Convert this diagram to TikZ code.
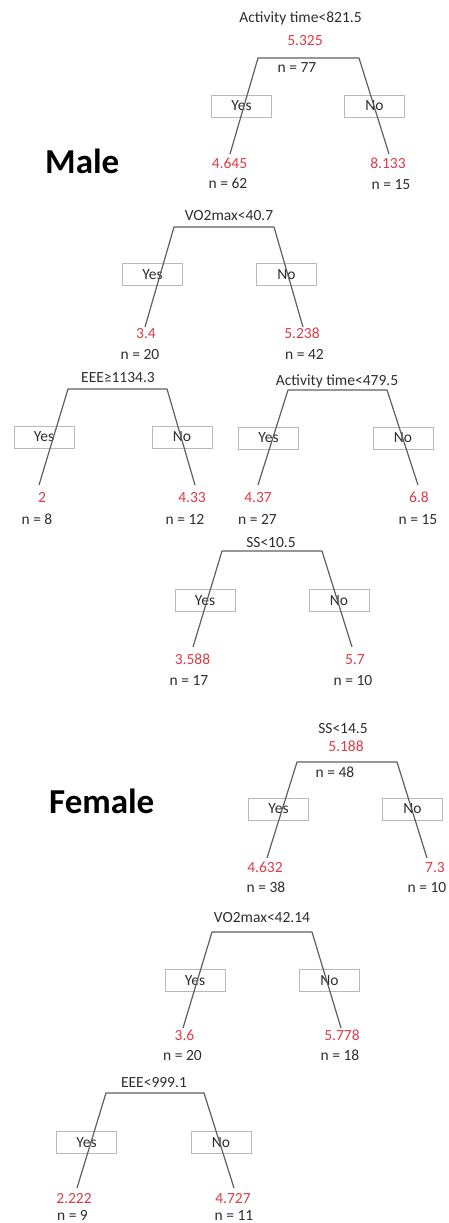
\documentclass[tikz,border=0pt]{standalone}
\usepackage{fontspec}
\setmainfont{Carlito}
\definecolor{ink}{RGB}{45,45,45}
\definecolor{mean}{RGB}{222,58,72}
\definecolor{edge}{RGB}{95,95,95}
\definecolor{frame}{RGB}{185,185,185}
\tikzset{
  lbl/.style={font=\fontsize{15.5}{18}\selectfont, text=ink, inner sep=0pt, anchor=base},
  val/.style={lbl, text=mean},
  choice/.style={draw=frame, line width=0.9pt, minimum width=60pt, minimum height=22pt,
    inner sep=0pt, font=\fontsize{15.5}{18}\selectfont, text=ink},
  branch/.style={draw=edge, line width=1.2pt, line join=round},
  sex/.style={font=\fontsize{35}{40}\selectfont\bfseries, text=black, inner sep=0pt, anchor=base west},
}
\begin{document}
\begin{tikzpicture}[x=1pt,y=-1pt]
\useasboundingbox (0,0) rectangle (448,1223);

% ---------------- Male ----------------
\node[sex] (male) at (45,173) {Male};

% split 1: Activity time<821.5
\node[lbl] (m1c) at (300.5,23) {Activity time<821.5};
\node[val] (m1v) at (305,46) {5.325};
\node[lbl] (m1n) at (297,72) {n = 77};
\node[choice] (m1y) at (241.5,106) {Yes};
\node[choice] (m1o) at (374.5,106) {No};
\coordinate (m1L) at (258,58);
\coordinate (m1R) at (359,58);
\coordinate (m1a) at (230,154);
\coordinate (m1b) at (389,154);
\draw[branch] (m1a) -- (m1L) -- (m1R) -- (m1b);
\node[val] (m1av) at (229.5,168) {4.645};
\node[lbl] (m1an) at (228,188) {n = 62};
\node[val] (m1bv) at (388,168) {8.133};
\node[lbl] (m1bn) at (391,189) {n = 15};

% split 2: VO2max<40.7
\node[lbl] (m2c) at (229,220) {VO2max<40.7};
\node[choice] (m2y) at (152.5,274.5) {Yes};
\node[choice] (m2o) at (286.5,274.5) {No};
\coordinate (m2L) at (174,227);
\coordinate (m2R) at (274,227);
\coordinate (m2a) at (145,327);
\coordinate (m2b) at (303,327);
\draw[branch] (m2a) -- (m2L) -- (m2R) -- (m2b);
\node[val] (m2av) at (146,338) {3.4};
\node[lbl] (m2an) at (140,359) {n = 20};
\node[val] (m2bv) at (302,338) {5.238};
\node[lbl] (m2bn) at (304.5,359) {n = 42};

% split 3: EEE>=1134.3
\node[lbl] (m3c) at (118,382) {EEE≥1134.3};
\node[choice] (m3y) at (44,437) {Yes};
\node[choice] (m3o) at (182,437) {No};
\coordinate (m3L) at (68,389);
\coordinate (m3R) at (167,389);
\coordinate (m3a) at (39,485);
\coordinate (m3b) at (195,485);
\draw[branch] (m3a) -- (m3L) -- (m3R) -- (m3b);
\node[val] (m3av) at (42,502) {2};
\node[lbl] (m3an) at (37,524) {n = 8};
\node[val] (m3bv) at (192,502) {4.33};
\node[lbl] (m3bn) at (185,524) {n = 12};

% split 4: Activity time<479.5
\node[lbl] (m4c) at (337,385) {Activity time<479.5};
\node[choice] (m4y) at (268.5,438) {Yes};
\node[choice] (m4o) at (403,438) {No};
\coordinate (m4L) at (288,390);
\coordinate (m4R) at (387,390);
\coordinate (m4a) at (258,485);
\coordinate (m4b) at (418,485);
\draw[branch] (m4a) -- (m4L) -- (m4R) -- (m4b);
\node[val] (m4av) at (258,502) {4.37};
\node[lbl] (m4an) at (257.5,524) {n = 27};
\node[val] (m4bv) at (419,502) {6.8};
\node[lbl] (m4bn) at (418,524) {n = 15};

% split 5: SS<10.5
\node[lbl] (m5c) at (271,547) {SS<10.5};
\node[choice] (m5y) at (205,600.5) {Yes};
\node[choice] (m5o) at (339,600.5) {No};
\coordinate (m5L) at (222,551);
\coordinate (m5R) at (322,551);
\coordinate (m5a) at (193,647);
\coordinate (m5b) at (352,647);
\draw[branch] (m5a) -- (m5L) -- (m5R) -- (m5b);
\node[val] (m5av) at (192.5,664) {3.588};
\node[lbl] (m5an) at (189,685) {n = 17};
\node[val] (m5bv) at (355,664) {5.7};
\node[lbl] (m5bn) at (353,685) {n = 10};

% ---------------- Female ----------------
\node[sex] (female) at (49,813) {Female};

% split 1: SS<14.5
\node[lbl] (f1c) at (343,733) {SS<14.5};
\node[val] (f1v) at (346,751) {5.188};
\node[lbl] (f1n) at (335,777) {n = 48};
\node[choice] (f1y) at (278.5,809) {Yes};
\node[choice] (f1o) at (412.5,809) {No};
\coordinate (f1L) at (297,762);
\coordinate (f1R) at (397,762);
\coordinate (f1a) at (267,858);
\coordinate (f1b) at (427,858);
\draw[branch] (f1a) -- (f1L) -- (f1R) -- (f1b);
\node[val] (f1av) at (265,872) {4.632};
\node[lbl] (f1an) at (266,892) {n = 38};
\node[val] (f1bv) at (435,872) {7.3};
\node[lbl] (f1bn) at (427,892) {n = 10};

% split 2: VO2max<42.14
\node[lbl] (f2c) at (262,922) {VO2max<42.14};
\node[choice] (f2y) at (195,980.5) {Yes};
\node[choice] (f2o) at (329.5,980.5) {No};
\coordinate (f2L) at (212,932);
\coordinate (f2R) at (312,932);
\coordinate (f2a) at (183,1028);
\coordinate (f2b) at (341,1028);
\draw[branch] (f2a) -- (f2L) -- (f2R) -- (f2b);
\node[val] (f2av) at (184.5,1040) {3.6};
\node[lbl] (f2an) at (182.5,1060) {n = 20};
\node[val] (f2bv) at (342,1040) {5.778};
\node[lbl] (f2bn) at (340,1060) {n = 18};

% split 3: EEE<999.1
\node[lbl] (f3c) at (154,1087) {EEE<999.1};
\node[choice] (f3y) at (86.5,1142.5) {Yes};
\node[choice] (f3o) at (221,1142.5) {No};
\coordinate (f3L) at (106,1093);
\coordinate (f3R) at (204,1093);
\coordinate (f3a) at (77,1188);
\coordinate (f3b) at (234,1188);
\draw[branch] (f3a) -- (f3L) -- (f3R) -- (f3b);
\node[val] (f3av) at (74,1203) {2.222};
\node[lbl] (f3an) at (72.5,1220.5) {n = 9};
\node[val] (f3bv) at (233,1203) {4.727};
\node[lbl] (f3bn) at (234,1220.5) {n = 11};
\end{tikzpicture}
\end{document}
